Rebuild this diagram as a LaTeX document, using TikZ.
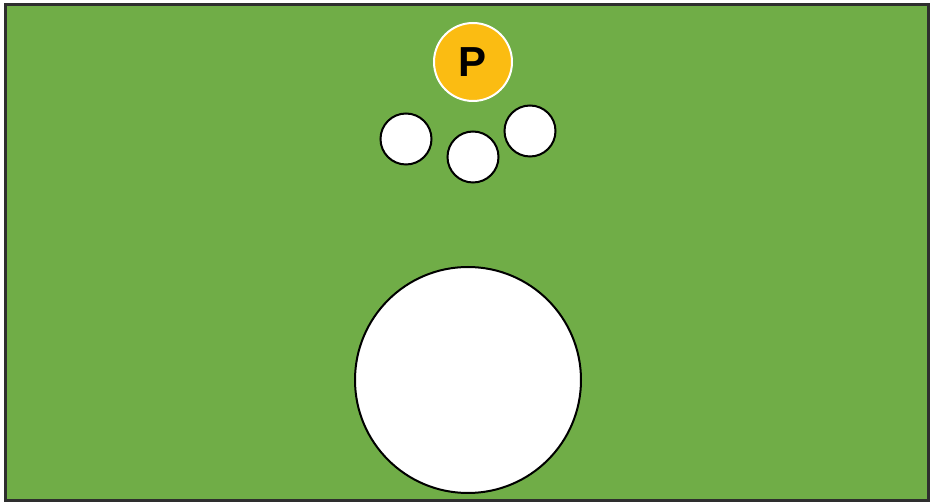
\documentclass[tikz,border=0pt]{standalone}
\usepackage{fontspec}
\setmainfont{Liberation Sans}
\definecolor{field}{HTML}{70AD47}
\definecolor{amber}{HTML}{FBBC12}
\definecolor{frame}{HTML}{2E2E2E}
\begin{document}
\begin{tikzpicture}[x=1pt,y=-1pt,
  ball/.style={circle,draw=black,line width=2pt,fill=white,inner sep=0pt},
  pin/.style={circle,draw=white,line width=2pt,fill=amber,inner sep=0pt,minimum size=78pt,font=\bfseries\fontsize{42}{42}\selectfont}]
\useasboundingbox (0,0) rectangle (930,502);
\fill[white] (0,0) rectangle (930,502);
\draw[frame,line width=2.5pt,fill=field] (5.5,4.5) rectangle (928.5,500.5);
\node[pin] (p) at (473,62) {P};
\node[ball,minimum size=51pt] (b1) at (406,139) {};
\node[ball,minimum size=51pt] (b2) at (473,157) {};
\node[ball,minimum size=51pt] (b3) at (530,131) {};
\node[ball,minimum size=226pt] (big) at (468,380) {};
\end{tikzpicture}
\end{document}
